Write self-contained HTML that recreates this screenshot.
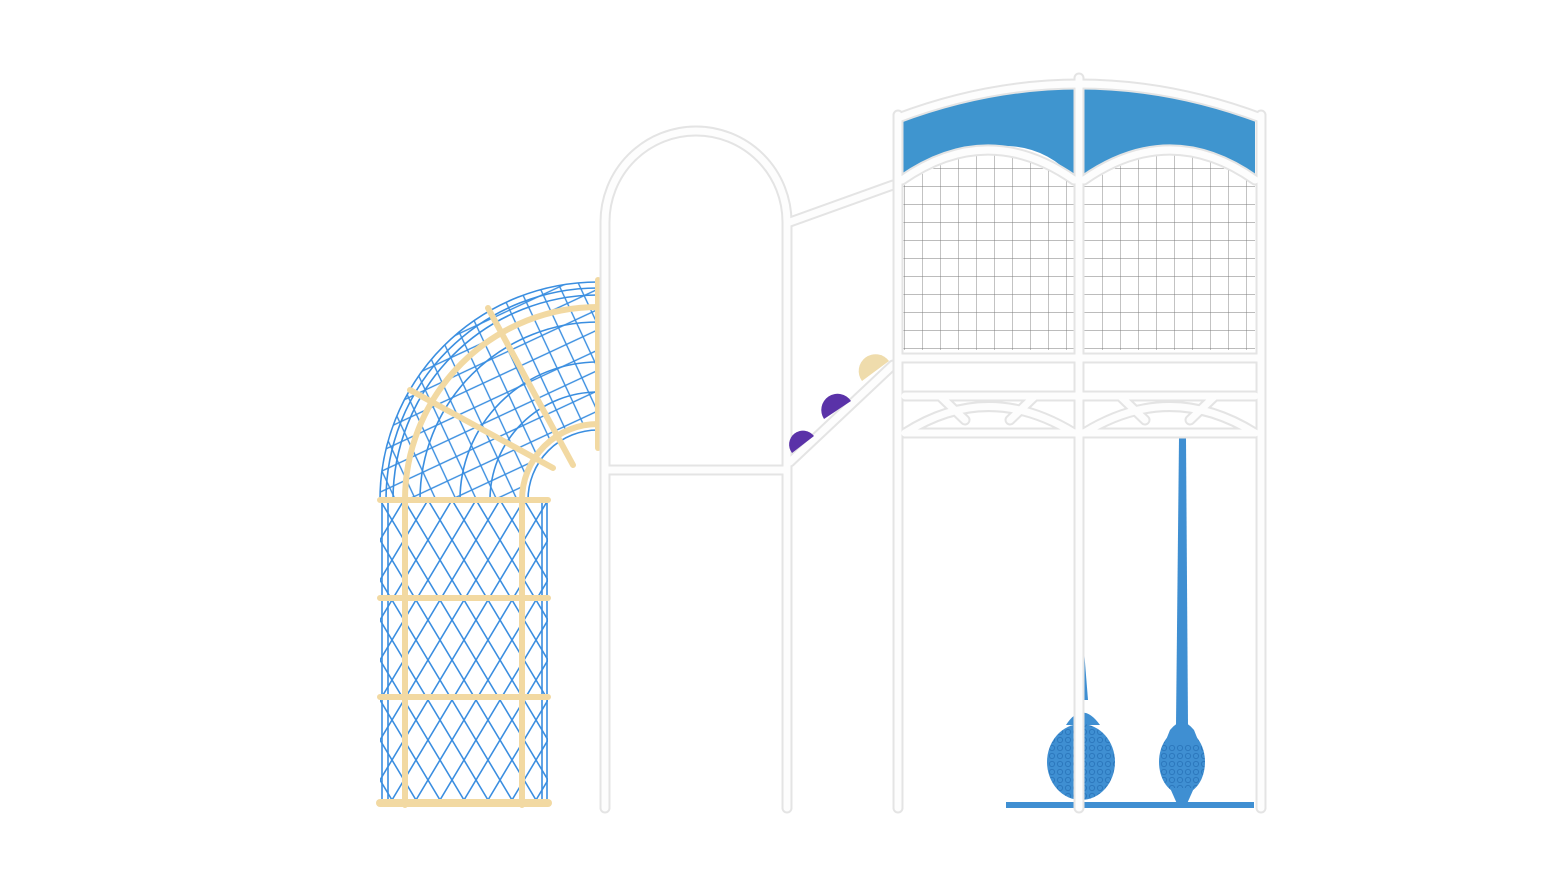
<!DOCTYPE html>
<html><head><meta charset="utf-8"><style>
html,body{margin:0;padding:0;background:#fff;}
svg{display:block}
.to{fill:none;stroke:#e4e4e4;stroke-width:11;stroke-linecap:round}
.ti{fill:none;stroke:#fdfdfd;stroke-width:7;stroke-linecap:round}
.b{fill:none;stroke:#f2d9a2;stroke-width:6;stroke-linecap:round}
.n{fill:none;stroke:#3a8ee0;stroke-width:1.6}
</style></head><body>
<svg width="1555" height="875" viewBox="0 0 1555 875" xmlns="http://www.w3.org/2000/svg">
<defs>
<pattern id="dia" width="24" height="40" patternUnits="userSpaceOnUse" x="380" y="500">
<path d="M0,0 L24,40 M24,0 L0,40" stroke="#3a8ee0" stroke-width="1.6" fill="none"/>
</pattern>
<pattern id="dia2" width="26" height="26" patternUnits="userSpaceOnUse" patternTransform="rotate(20)">
<path d="M0,0 L26,26 M26,0 L0,26" stroke="#3a8ee0" stroke-width="1.4" fill="none"/>
</pattern>
<pattern id="grid" width="18" height="18" patternUnits="userSpaceOnUse" x="904" y="150">
<path d="M0,0 V18 M0,0 H18" stroke="#7a7a7a" stroke-width="0.9" fill="none"/>
</pattern>
<pattern id="cells" width="8" height="8" patternUnits="userSpaceOnUse">
<rect width="8" height="8" fill="#3f8fd2"/><circle cx="4" cy="4" r="2.6" fill="none" stroke="#2c78bd" stroke-width="1"/>
</pattern>
<clipPath id="sect"><path d="M380,500 A218,218 0 0 1 598,282 L598,424 A76,76 0 0 0 522,500 Z"/></clipPath>
<clipPath id="gl"><path d="M903,182 Q988,128 1074,182 V350 H903 Z"/></clipPath>
<clipPath id="gr"><path d="M1084,182 Q1170,128 1255,182 V350 H1084 Z"/></clipPath>
</defs>

<rect x="380" y="500" width="168" height="305" fill="url(#dia)"/>
<path class="n" d="M382,500V805 M388,500V805 M542,500V805 M547,500V805"/>
<g clip-path="url(#sect)">
<rect x="370" y="270" width="240" height="240" fill="url(#dia2)"/>
</g>
<g class="n" fill="none">
<path d="M380,500 A218,218 0 0 1 598,282"/>
<path d="M386,500 A212,212 0 0 1 598,288"/>
<path d="M393,500 A205,205 0 0 1 598,295"/>
<path d="M522,500 A76,76 0 0 1 598,424"/>
<path d="M528,500 A70,70 0 0 1 598,430"/>
<path d="M420,500 A178,178 0 0 1 598,322"/>
<path d="M460,500 A138,138 0 0 1 598,362"/>
<path d="M490,500 A108,108 0 0 1 598,392"/>
</g>
<g>
<path class="b" d="M405,805 V500 A193,193 0 0 1 598,307"/>
<path class="b" d="M522,805 V500 A76,76 0 0 1 598,424"/>
<path class="b" d="M598,280 V448"/>
<path class="b" d="M380,500 H548 M380,598 H548 M380,697 H548"/>
<path class="b" d="M380,803 H548" style="stroke-width:8"/>
<path class="b" d="M410,390 L553,468"/>
<path class="b" d="M488,308 L573,465"/>
</g>

<g>
<path class="to" d="M605,808 V222 A91,91 0 0 1 787,222 V808"/>
<path class="to" d="M605,470 H787"/>
<path class="to" d="M790,222 L893,185"/>
<path class="to" d="M790,462 L893,365"/>
</g>
<path class="ti" d="M605,808 V222 A91,91 0 0 1 787,222 V808"/>
<path class="ti" d="M605,470 H787"/>
<path class="ti" d="M790,222 L893,185"/>
<path class="ti" d="M790,462 L893,365"/>
<path d="M792,453 A13,13 0 0 1 814,436 Z" fill="#5a32a8"/>
<path d="M824,419 A14,14 0 0 1 851,401 Z" fill="#5a32a8"/>
<path d="M862,381 A14,14 0 0 1 889,361 Z" fill="#efdcac"/>

<path d="M902,118 Q988,80 1074,79 V178 Q1040,140 988,147 Q930,152 902,180 Z" fill="#3f95cf"/>
<path d="M1084,79 Q1170,82 1255,118 V180 Q1225,150 1170,147 Q1115,148 1084,178 Z" fill="#3f95cf"/>
<g clip-path="url(#gl)"><rect x="900" y="130" width="180" height="222" fill="url(#grid)"/></g>
<g clip-path="url(#gr)"><rect x="1080" y="130" width="180" height="222" fill="url(#grid)"/></g>
<path d="M1179,438 H1186 L1188,725 L1176,725 Z" fill="#3f8fd2"/>
<ellipse cx="1182" cy="762" rx="23" ry="32" fill="url(#cells)"/>
<path d="M1170,730 Q1182,715 1194,730 L1200,745 L1164,745 Z" fill="#3f8fd2"/>
<path d="M1170,788 L1194,788 L1186,806 L1178,806 Z" fill="#3f8fd2"/>
<path d="M1084,650 L1088,700 L1080,700 Z" fill="#3f8fd2"/>
<path d="M1066,725 Q1082,700 1100,725 Z" fill="#3f8fd2"/>
<ellipse cx="1081" cy="762" rx="34" ry="38" fill="url(#cells)"/>
<rect x="1006" y="802" width="248" height="6" fill="#3f8fd2"/>

<g>
<path class="to" d="M898,808 V115 M1261,808 V115 M898,118 Q1079,50 1261,118"/>
<path class="to" d="M902,180 Q988,120 1074,180 M1084,180 Q1170,120 1255,180"/>
<path class="to" d="M900,358 H1259 M905,396 H1255 M905,433 H1255"/>
<path class="to" d="M905,433 Q988,380 1074,433 M1084,433 Q1170,380 1255,433"/>
<path class="to" d="M940,396 L965,420 M1035,396 L1010,420 M1120,396 L1145,420 M1215,396 L1190,420"/>
<path class="to" d="M1079,808 V78"/>
</g>
<g>
<path class="ti" d="M898,808 V115 M1261,808 V115 M898,118 Q1079,50 1261,118"/>
<path class="ti" d="M902,180 Q988,120 1074,180 M1084,180 Q1170,120 1255,180"/>
<path class="ti" d="M900,358 H1259 M905,396 H1255 M905,433 H1255"/>
<path class="ti" d="M905,433 Q988,380 1074,433 M1084,433 Q1170,380 1255,433"/>
<path class="ti" d="M940,396 L965,420 M1035,396 L1010,420 M1120,396 L1145,420 M1215,396 L1190,420"/>
<path class="ti" d="M1079,808 V78"/>
</g>
</svg>
</body></html>
